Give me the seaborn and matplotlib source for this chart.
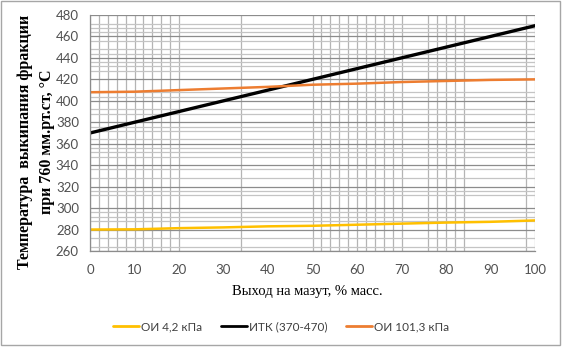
import matplotlib
matplotlib.use("Agg")
import matplotlib.pyplot as plt
import numpy as np
import pandas as pd
import seaborn as sns

# ---- data ----
x_values = [0, 10, 20, 30, 40, 50, 60, 70, 80, 90, 100]
oi_4_2 = [280, 280.2, 281.3, 282, 283, 283.5, 284.5, 285.5, 286.5, 287.2, 288.5]
itk = [370, 380, 390, 400, 410, 420, 430, 440, 450, 460, 470]
oi_101_3 = [408, 408.5, 410, 411.5, 413, 415, 416, 417.5, 418.5, 419.5, 420]
series_names = ["ОИ 4,2 кПа", "ИТК (370-470)", "ОИ 101,3 кПа"]
series_colors = ["#FFC000", "#000000", "#ED7D31"]

x_ticks = [0, 10, 20, 30, 40, 50, 60, 70, 80, 90, 100]
y_ticks = [260, 280, 300, 320, 340, 360, 380, 400, 420, 440, 460, 480]
v_grid = [0, 2, 4, 6, 8, 10, 12, 14, 16, 18, 20, 34, 50, 52, 54, 56, 58, 60,
          62, 64, 66, 68, 70, 76, 78, 80, 82, 84, 98, 100]
h_minor = [472, 468, 464, 456, 448, 444, 436, 432, 428, 408, 404, 392, 388,
           376, 372, 364, 356, 352, 348, 336, 328, 316, 312, 296, 292, 288,
           272, 264]

x_label = "Выход на мазут, % масс."
y_label = "Температура  выкипания фракции\nпри 760 мм.рт.ст, °С"

df = pd.DataFrame({
    "x": x_values * 3,
    "y": oi_4_2 + itk + oi_101_3,
    "series": [series_names[0]] * len(x_values)
    + [series_names[1]] * len(x_values)
    + [series_names[2]] * len(x_values),
})

sns.set_theme(style="white")
plt.rcParams["font.family"] = ["Lato", "DejaVu Sans"]

fig = plt.figure(figsize=(5.62, 3.49), dpi=100)
ax = fig.add_axes([90 / 562, 1 - 251 / 349, 445 / 562, 236 / 349])

sns.lineplot(data=df, x="x", y="y", hue="series", hue_order=series_names,
             palette=series_colors, ax=ax, linewidth=2.0, legend=True)
for line, lw in zip(ax.get_lines()[:3], [1.8, 2.4, 1.8]):
    line.set_linewidth(lw)

ax.set_xlim(0, 100)
ax.set_ylim(260, 480)
ax.set_xticks(x_ticks)
ax.set_yticks(y_ticks)
ax.set_xticks(v_grid, minor=True)
ax.set_yticks(h_minor, minor=True)
ax.xaxis.remove_overlapping_locs = False
ax.yaxis.remove_overlapping_locs = False

ax.grid(False)
ax.grid(axis="x", which="minor", color="#B4B4B4", linewidth=0.9, zorder=0)
ax.grid(axis="y", which="minor", color="#C4C4C4", linewidth=0.9, zorder=0)
ax.grid(axis="y", which="major", color="#8C8C8C", linewidth=0.9, zorder=0)
ax.set_axisbelow(True)

ax.tick_params(axis="both", which="major", length=4, width=0.8,
               color="#8C8C8C", direction="out", labelsize=9.5,
               labelcolor="#505050", pad=4)
ax.tick_params(axis="both", which="minor", length=0)
ax.tick_params(axis="x", which="major", length=0, pad=9)

for side in ["top", "right"]:
    ax.spines[side].set_visible(False)
for side in ["left", "bottom"]:
    ax.spines[side].set_color("#8C8C8C")
    ax.spines[side].set_linewidth(0.9)

ax.set_xlabel("")
ax.set_ylabel("")
fig.text(307 / 562, 1 - 291 / 349, x_label, ha="center", va="center",
         fontsize=10.5, family=["Liberation Serif", "DejaVu Serif"], color="#000000")
fig.text(36 / 562, 1 - 142 / 349, y_label, ha="center", va="center",
         rotation=90, fontsize=11.5, fontweight="bold", linespacing=1.45,
         family=["Liberation Serif", "DejaVu Serif"], color="#000000")

handles, labels = ax.get_legend_handles_labels()
ax.get_legend().remove()
fig.legend(handles, labels, loc="center", bbox_to_anchor=(0.5, 1 - 327 / 349),
           ncol=3, frameon=False, fontsize=8.5, handlelength=2.2,
           handletextpad=0.15, columnspacing=1.6, labelcolor="#404040")

fig.add_artist(plt.Rectangle((1 / 562, 4 / 349), 559 / 562, 344 / 349,
                             transform=fig.transFigure, fill=False,
                             edgecolor="#A6A6A6", linewidth=1.0))

fig.savefig("out.png", dpi=100)
